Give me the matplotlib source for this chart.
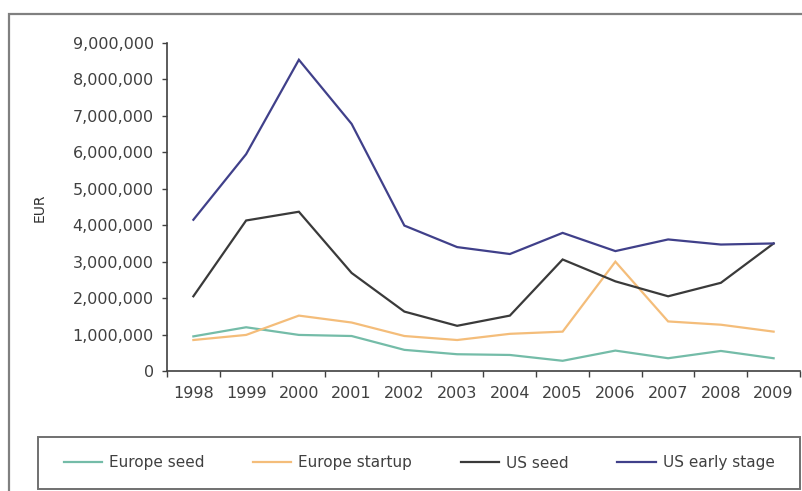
import matplotlib
matplotlib.use("Agg")
import matplotlib.pyplot as plt
from matplotlib.patches import Rectangle
from matplotlib.ticker import FuncFormatter, FixedLocator
import numpy as np

years = ["1998", "1999", "2000", "2001", "2002", "2003", "2004", "2005", "2006", "2007", "2008", "2009"]
europe_seed = [950000, 1200000, 990000, 960000, 580000, 460000, 440000, 280000, 560000, 350000, 550000, 350000]
europe_startup = [850000, 990000, 1520000, 1330000, 960000, 850000, 1020000, 1080000, 3000000, 1360000, 1270000, 1080000]
us_seed = [2050000, 4130000, 4370000, 2690000, 1630000, 1240000, 1520000, 3060000, 2460000, 2050000, 2420000, 3500000]
us_early = [4150000, 5950000, 8540000, 6780000, 3990000, 3400000, 3210000, 3790000, 3290000, 3610000, 3470000, 3500000]
series_names = ["Europe seed", "Europe startup", "US seed", "US early stage"]
colors = ["#74bca8", "#f4bd7a", "#3a3a3a", "#40408a"]

W, H = 803, 491
fig = plt.figure(figsize=(W / 100, H / 100), dpi=100)
fig.patch.set_facecolor("white")

# outer frame
fig.add_artist(Rectangle((9 / W, -0.2), 1.3, 1.2 - 14 / H, transform=fig.transFigure,
                         fill=False, edgecolor="#808080", linewidth=1.6))

ax = fig.add_axes([167 / W, (H - 371) / H, (800 - 167) / W, (371 - 43) / H])
x = np.arange(len(years))
for vals, name, c in zip([europe_seed, europe_startup, us_seed, us_early], series_names, colors):
    ax.plot(x, vals, color=c, lw=1.6, label=name, solid_joinstyle="miter")

ax.set_xlim(-0.5, len(years) - 0.5)
ax.set_ylim(0, 9000000)
ax.set_yticks(np.arange(0, 9000001, 1000000))
ax.yaxis.set_major_formatter(FuncFormatter(lambda v, p: f"{int(v):,}"))
ax.xaxis.set_major_locator(FixedLocator(np.arange(-0.5, len(years), 1.0)))
ax.xaxis.set_major_formatter(FuncFormatter(lambda v, p: ""))
ax.xaxis.set_minor_locator(FixedLocator(x))
ax.set_xticklabels(years, minor=True)
ax.tick_params(axis="x", which="major", length=4.5, width=1, color="#404040", direction="out")
ax.tick_params(axis="x", which="minor", length=0, pad=11, labelsize=11.5, labelcolor="#404040")
ax.tick_params(axis="y", length=3.6, width=1, color="#404040", pad=6, labelsize=11.5, labelcolor="#404040")
for s in ["top", "right"]:
    ax.spines[s].set_visible(False)
for s in ["left", "bottom"]:
    ax.spines[s].set_color("#404040")
    ax.spines[s].set_linewidth(1.2)

fig.text(40 / W, 1 - 208 / H, "EUR", rotation=90, ha="center", va="center", fontsize=10, color="#303030")

# legend box
fig.add_artist(Rectangle((38 / W, (H - 489) / H), (800 - 38) / W, 52 / H, transform=fig.transFigure,
                         fill=False, edgecolor="#707070", linewidth=1.4))
fig.legend(loc="center", bbox_to_anchor=(419 / W, 1 - 463 / H), ncol=4, frameon=False,
           fontsize=11, handlelength=2.5, handletextpad=0.45, columnspacing=3.2,
           labelcolor="#404040")

fig.savefig("out.png", dpi=100)
